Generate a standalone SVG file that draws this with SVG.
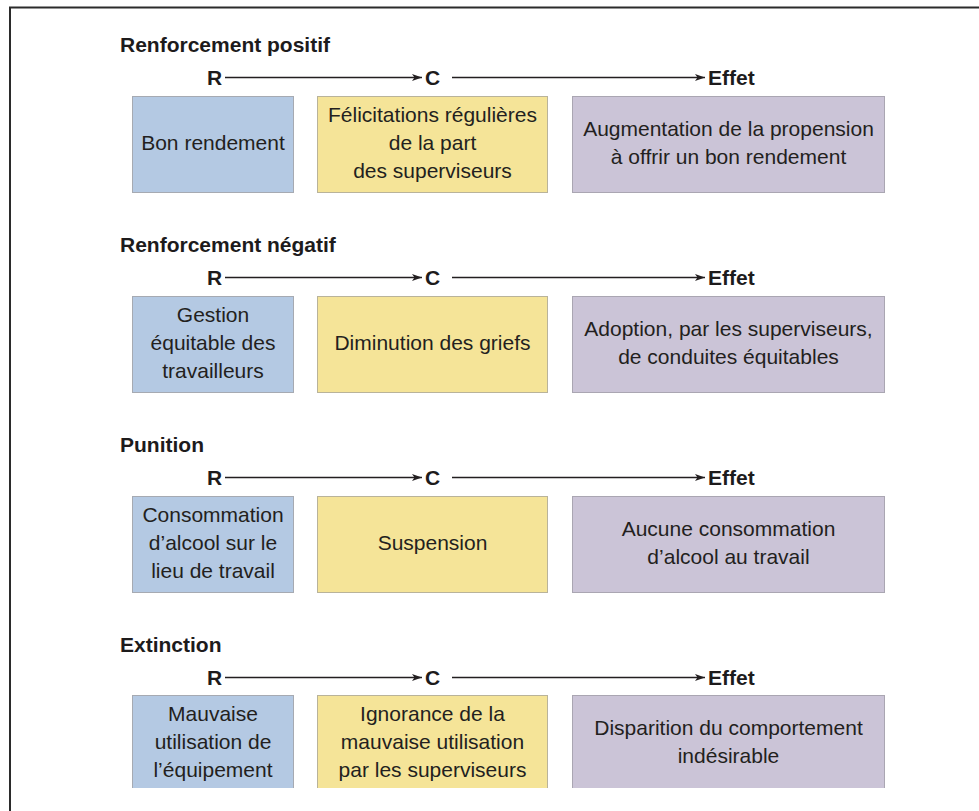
<svg xmlns="http://www.w3.org/2000/svg" width="979" height="811" viewBox="0 0 979 811">
<defs>
<style>
.frame{fill:none;stroke:#2b2b2b;stroke-width:2}
.title{font-family:"Liberation Sans",Arial,sans-serif;font-weight:bold;font-size:21px;fill:#1d1b1c}
.lbl{font-family:"Liberation Sans",Arial,sans-serif;font-weight:bold;font-size:21px;fill:#1d1b1c}
.txt{font-family:"Liberation Sans",Arial,sans-serif;font-size:21px;fill:#231f20;text-anchor:middle}
.r{fill:#b4c9e3;stroke:#a6aab2;stroke-width:1}
.c{fill:#f5e498;stroke:#b9b39a;stroke-width:1}
.e{fill:#cbc4d7;stroke:#aaa6b2;stroke-width:1}
.arr{fill:none;stroke:#231f20;stroke-width:1.3;marker-end:url(#ah)}
</style>
<marker id="ah" viewBox="0 0 10 8" refX="10" refY="4" markerWidth="10" markerHeight="8" markerUnits="userSpaceOnUse" orient="auto">
<path d="M0,0.5 L10,4 L0,7.5 L2.5,4 Z" fill="#231f20"/>
</marker>
<clipPath id="cut"><rect x="0" y="0" width="979" height="788"/></clipPath>
</defs>
<rect width="979" height="811" fill="#ffffff"/>
<path class="frame" d="M10,811 L10,7.5 L979,7.5"/>

<g id="titles">
<text class="title" x="120" y="52">Renforcement positif</text>
<text class="title" x="120" y="252">Renforcement négatif</text>
<text class="title" x="120" y="452">Punition</text>
<text class="title" x="120" y="652">Extinction</text>
</g>

<g id="labels">
<text class="lbl" x="207" y="85">R</text><text class="lbl" x="425" y="85">C</text><text class="lbl" x="708" y="85">Effet</text>
<text class="lbl" x="207" y="285">R</text><text class="lbl" x="425" y="285">C</text><text class="lbl" x="708" y="285">Effet</text>
<text class="lbl" x="207" y="485">R</text><text class="lbl" x="425" y="485">C</text><text class="lbl" x="708" y="485">Effet</text>
<text class="lbl" x="207" y="685">R</text><text class="lbl" x="425" y="685">C</text><text class="lbl" x="708" y="685">Effet</text>
</g>

<g id="connectors">
<line class="arr" x1="225" y1="77.5" x2="422" y2="77.5"/><line class="arr" x1="452" y1="77.5" x2="705" y2="77.5"/>
<line class="arr" x1="225" y1="277.5" x2="422" y2="277.5"/><line class="arr" x1="452" y1="277.5" x2="705" y2="277.5"/>
<line class="arr" x1="225" y1="477.5" x2="422" y2="477.5"/><line class="arr" x1="452" y1="477.5" x2="705" y2="477.5"/>
<line class="arr" x1="225" y1="677.5" x2="422" y2="677.5"/><line class="arr" x1="452" y1="677.5" x2="705" y2="677.5"/>
</g>

<g id="r1">
<rect class="r" x="132.5" y="96.5" width="161" height="96"/>
<text class="txt" x="213" y="150">Bon rendement</text>
</g>
<g id="c1">
<rect class="c" x="317.5" y="96.5" width="230" height="96"/>
<text class="txt" x="432.5" y="122">Félicitations régulières</text>
<text class="txt" x="432.5" y="150">de la part</text>
<text class="txt" x="432.5" y="178">des superviseurs</text>
</g>
<g id="e1">
<rect class="e" x="572.5" y="96.5" width="312" height="96"/>
<text class="txt" x="728.5" y="136">Augmentation de la propension</text>
<text class="txt" x="728.5" y="164">à offrir un bon rendement</text>
</g>

<g id="r2">
<rect class="r" x="132.5" y="296.5" width="161" height="96"/>
<text class="txt" x="213" y="322">Gestion</text>
<text class="txt" x="213" y="350">équitable des</text>
<text class="txt" x="213" y="378">travailleurs</text>
</g>
<g id="c2">
<rect class="c" x="317.5" y="296.5" width="230" height="96"/>
<text class="txt" x="432.5" y="350">Diminution des griefs</text>
</g>
<g id="e2">
<rect class="e" x="572.5" y="296.5" width="312" height="96"/>
<text class="txt" x="728.5" y="336">Adoption, par les superviseurs,</text>
<text class="txt" x="728.5" y="364">de conduites équitables</text>
</g>

<g id="r3">
<rect class="r" x="132.5" y="496.5" width="161" height="96"/>
<text class="txt" x="213" y="522">Consommation</text>
<text class="txt" x="213" y="550">d’alcool sur le</text>
<text class="txt" x="213" y="578">lieu de travail</text>
</g>
<g id="c3">
<rect class="c" x="317.5" y="496.5" width="230" height="96"/>
<text class="txt" x="432.5" y="550">Suspension</text>
</g>
<g id="e3">
<rect class="e" x="572.5" y="496.5" width="312" height="96"/>
<text class="txt" x="728.5" y="536">Aucune consommation</text>
<text class="txt" x="728.5" y="564">d’alcool au travail</text>
</g>

<g clip-path="url(#cut)">
<g id="r4">
<rect class="r" x="132.5" y="695.5" width="161" height="100"/>
<text class="txt" x="213" y="721">Mauvaise</text>
<text class="txt" x="213" y="749">utilisation de</text>
<text class="txt" x="213" y="777">l’équipement</text>
</g>
<g id="c4">
<rect class="c" x="317.5" y="695.5" width="230" height="100"/>
<text class="txt" x="432.5" y="721">Ignorance de la</text>
<text class="txt" x="432.5" y="749">mauvaise utilisation</text>
<text class="txt" x="432.5" y="777">par les superviseurs</text>
</g>
<g id="e4">
<rect class="e" x="572.5" y="695.5" width="312" height="100"/>
<text class="txt" x="728.5" y="735">Disparition du comportement</text>
<text class="txt" x="728.5" y="763">indésirable</text>
</g>
</g>
</svg>
